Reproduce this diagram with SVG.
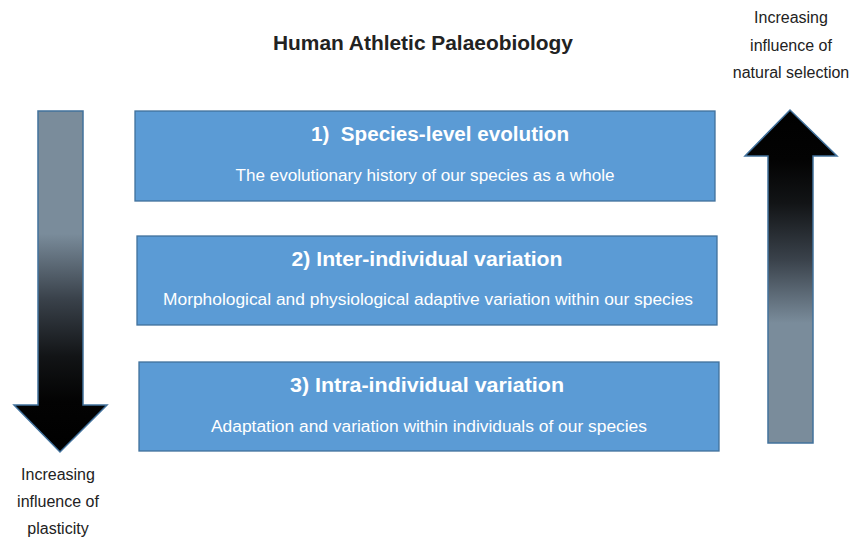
<svg xmlns="http://www.w3.org/2000/svg" width="868" height="541" viewBox="0 0 868 541">
<style>
.box{fill:#5b9bd5;stroke:#41719c;stroke-width:1.3}
.h{font-family:"Liberation Sans",Arial,sans-serif;font-weight:bold;font-size:20px;fill:#fff;text-anchor:middle}
.s{font-family:"Liberation Sans",Arial,sans-serif;font-size:16px;fill:#fff;text-anchor:middle}
.l{font-family:"Liberation Sans",Arial,sans-serif;font-size:16px;fill:#222;text-anchor:middle}
.t{font-family:"Liberation Sans",Arial,sans-serif;font-weight:bold;font-size:20px;fill:#222;text-anchor:middle}
.arr{stroke:#41719c;stroke-width:1.5}
</style>
<defs>
<linearGradient id="gDown" x1="0" y1="111" x2="0" y2="452" gradientUnits="userSpaceOnUse">
<stop offset="0" stop-color="#7a8c9b"/>
<stop offset="0.36" stop-color="#7a8c9b"/>
<stop offset="0.55" stop-color="#3a424b"/>
<stop offset="0.72" stop-color="#121416"/>
<stop offset="0.85" stop-color="#030303"/>
<stop offset="1" stop-color="#000"/>
</linearGradient>
<linearGradient id="gUp" x1="0" y1="443" x2="0" y2="110" gradientUnits="userSpaceOnUse">
<stop offset="0" stop-color="#7a8c9b"/>
<stop offset="0.36" stop-color="#7a8c9b"/>
<stop offset="0.55" stop-color="#3a424b"/>
<stop offset="0.72" stop-color="#121416"/>
<stop offset="0.85" stop-color="#030303"/>
<stop offset="1" stop-color="#000"/>
</linearGradient>
</defs>
<text class="t" x="423" y="50" textLength="300" lengthAdjust="spacingAndGlyphs">Human Athletic Palaeobiology</text>
<g id="arrow-plasticity">
<polygon class="arr" fill="url(#gDown)" points="38,111 83,111 83,405 107,405 60,452 14,405 38,405"/>
<text class="l" x="58" y="480">Increasing</text>
<text class="l" x="58" y="507">influence of</text>
<text class="l" x="58" y="534">plasticity</text>
</g>
<g id="arrow-selection">
<polygon class="arr" fill="url(#gUp)" points="768,443 813,443 813,156 837,156 790,110 745,156 768,156"/>
<text class="l" x="791" y="23">Increasing</text>
<text class="l" x="791" y="51">influence of</text>
<text class="l" x="791" y="78">natural selection</text>
</g>
<g id="box1">
<rect class="box" x="135" y="111" width="580" height="90"/>
<text class="h" x="440" y="141" textLength="258" lengthAdjust="spacingAndGlyphs">1)&#160; Species-level evolution</text>
<text class="s" x="425" y="181" textLength="379" lengthAdjust="spacingAndGlyphs">The evolutionary history of our species as a whole</text>
</g>
<g id="box2">
<rect class="box" x="137" y="236" width="580" height="89"/>
<text class="h" x="427" y="266" textLength="271" lengthAdjust="spacingAndGlyphs">2) Inter-individual variation</text>
<text class="s" x="428" y="305" textLength="530" lengthAdjust="spacingAndGlyphs">Morphological and physiological adaptive variation within our species</text>
</g>
<g id="box3">
<rect class="box" x="139" y="362" width="580" height="89"/>
<text class="h" x="427" y="392" textLength="274" lengthAdjust="spacingAndGlyphs">3) Intra-individual variation</text>
<text class="s" x="429" y="432" textLength="436" lengthAdjust="spacingAndGlyphs">Adaptation and variation within individuals of our species</text>
</g>
<g id="connectors"></g>
</svg>
